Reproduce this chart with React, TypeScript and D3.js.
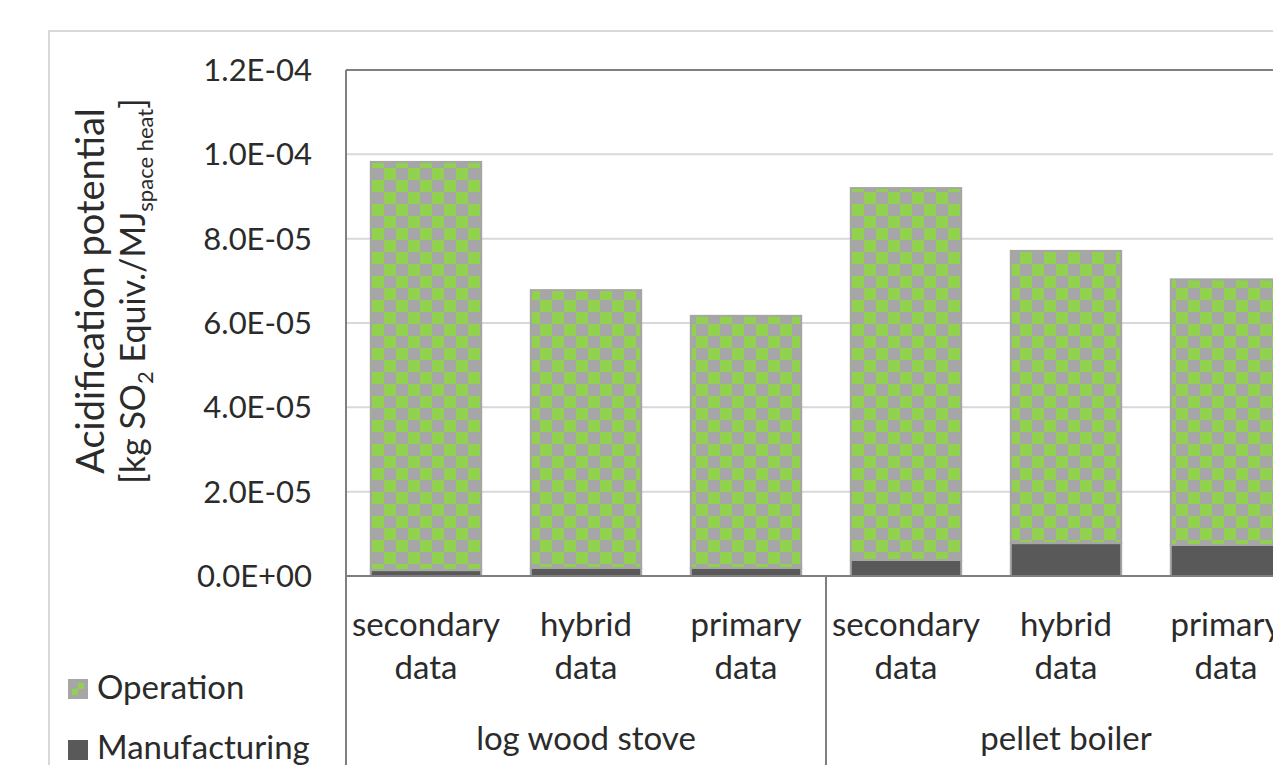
import React, { useEffect, useRef } from "react";
import * as d3 from "d3";

const groups = ["log wood stove", "pellet boiler"];
const subCats = ["secondary data", "hybrid data", "primary data"];
const categories = ["lws-secondary", "lws-hybrid", "lws-primary", "pb-secondary", "pb-hybrid", "pb-primary"];
const manufacturing = [1.4e-6, 1.9e-6, 1.9e-6, 3.8e-6, 7.8e-6, 7.35e-6];
const operation = [9.68e-5, 6.59e-5, 5.98e-5, 8.82e-5, 6.93e-5, 6.3e-5];
const yTicks = [0, 2e-5, 4e-5, 6e-5, 8e-5, 1e-4, 1.2e-4];

const FONT = "Lato, 'Open Sans', sans-serif";
const TEXT = "#2b2b2b";
const GREEN = "#92d050";
const GRAY = "#a6a6a6";
const DARK = "#595959";

export default function App() {
  const svgRef = useRef<SVGSVGElement>(null);

  useEffect(() => {
    document.body.style.margin = "0";
    if (!svgRef.current) return;
    const svg = d3.select(svgRef.current);
    svg.selectAll("*").remove();

    const W = 1273, H = 765;
    const left = 346, top = 70, bottom = 576;
    const plotRight = left + 960;

    const defs = svg.append("defs");
    const pat = defs.append("pattern").attr("id", "checker").attr("patternUnits", "userSpaceOnUse")
      .attr("width", 24).attr("height", 24).attr("x", 0).attr("y", 0);
    pat.append("rect").attr("width", 24).attr("height", 24).attr("fill", GRAY);
    pat.append("rect").attr("width", 12).attr("height", 12).attr("fill", GREEN);
    pat.append("rect").attr("x", 12).attr("y", 12).attr("width", 12).attr("height", 12).attr("fill", GREEN);

    const patSmall = defs.append("pattern").attr("id", "checkerSmall").attr("patternUnits", "userSpaceOnUse")
      .attr("width", 20).attr("height", 20).attr("x", 68).attr("y", 679);
    patSmall.append("rect").attr("width", 20).attr("height", 20).attr("fill", GRAY);
    patSmall.append("rect").attr("x", 4).attr("y", 10).attr("width", 6).attr("height", 6).attr("fill", GREEN);
    patSmall.append("rect").attr("x", 10).attr("y", 4).attr("width", 6).attr("height", 6).attr("fill", GREEN);

    svg.append("rect").attr("width", W).attr("height", H).attr("fill", "#fff");
    // chart area border
    svg.append("rect").attr("x", 49).attr("y", 31).attr("width", W).attr("height", H)
      .attr("fill", "none").attr("stroke", "#d9d9d9").attr("stroke-width", 2);

    const x = d3.scaleBand<string>().domain(categories).range([left, plotRight]).paddingInner(0.31).paddingOuter(0.155);
    const y = d3.scaleLinear().domain([0, 1.2e-4]).range([bottom, top]);

    // gridlines
    svg.append("g").selectAll("line").data(yTicks.slice(1, -1)).join("line")
      .attr("x1", left).attr("x2", plotRight).attr("y1", d => y(d)).attr("y2", d => y(d))
      .attr("stroke", "#d9d9d9").attr("stroke-width", 2);

    // bars
    const stack = categories.map((c, i) => ({ c, m: manufacturing[i], o: operation[i] }));
    svg.append("g").selectAll("rect").data(stack).join("rect")
      .attr("x", d => x(d.c)!).attr("width", x.bandwidth())
      .attr("y", d => y(d.m)).attr("height", d => y(0) - y(d.m))
      .attr("fill", DARK).attr("stroke", GRAY).attr("stroke-width", 2);
    svg.append("g").selectAll("rect").data(stack).join("rect")
      .attr("x", d => x(d.c)!).attr("width", x.bandwidth())
      .attr("y", d => y(d.m + d.o)).attr("height", d => y(d.m) - y(d.m + d.o))
      .attr("fill", "url(#checker)").attr("stroke", GRAY).attr("stroke-width", 2);

    // plot border / axes
    const axisColor = "#7f7f7f";
    svg.append("line").attr("x1", left).attr("x2", plotRight).attr("y1", top).attr("y2", top)
      .attr("stroke", axisColor).attr("stroke-width", 2);
    svg.append("line").attr("x1", left).attr("x2", plotRight).attr("y1", bottom).attr("y2", bottom)
      .attr("stroke", axisColor).attr("stroke-width", 2);
    svg.append("line").attr("x1", left).attr("x2", left).attr("y1", top).attr("y2", H)
      .attr("stroke", axisColor).attr("stroke-width", 2);
    groups.forEach((g, gi) => {
      const gx = left + (gi + 1) * 480;
      svg.append("line").attr("x1", gx).attr("x2", gx).attr("y1", bottom).attr("y2", H)
        .attr("stroke", axisColor).attr("stroke-width", 2);
      svg.append("text").attr("x", left + gi * 480 + 240).attr("y", 750)
        .attr("text-anchor", "middle").attr("font-family", FONT).attr("font-size", 33).attr("fill", TEXT).text(g);
    });

    // y tick labels
    svg.append("g").selectAll("text").data(yTicks).join("text")
      .attr("x", 312).attr("y", d => y(d)).attr("dy", "0.35em").attr("text-anchor", "end")
      .attr("font-family", FONT).attr("font-size", 31).attr("fill", TEXT)
      .text(d => d.toExponential(1).replace(/e([+-])(\d)$/, "E$10$2").toUpperCase());

    // category labels
    const lab = svg.append("g").selectAll("text").data(categories).join("text")
      .attr("text-anchor", "middle").attr("font-family", FONT).attr("font-size", 33).attr("fill", TEXT);
    lab.each(function (d, i) {
      const [a, b] = subCats[i % 3].split(" ");
      const cx = x(d)! + x.bandwidth() / 2;
      const t = d3.select(this);
      t.append("tspan").attr("x", cx).attr("y", 636).text(a);
      t.append("tspan").attr("x", cx).attr("y", 679).text(b);
    });

    // y title
    const title = svg.append("g").attr("transform", "translate(0,291) rotate(-90)")
      .attr("font-family", FONT).attr("fill", TEXT).attr("text-anchor", "middle");
    title.append("text").attr("x", 0).attr("y", 104).attr("font-size", 38).text("Acidification potential");
    const t2 = title.append("text").attr("x", 0).attr("y", 145).attr("font-size", 34);
    t2.append("tspan").text("[kg SO");
    t2.append("tspan").attr("font-size", 22).attr("dy", 8).text("2");
    t2.append("tspan").attr("dy", -8).text(" Equiv./MJ");
    t2.append("tspan").attr("font-size", 22).attr("dy", 8).text("space heat");
    t2.append("tspan").attr("dy", -8).text("]");

    // legend
    svg.append("rect").attr("x", 68).attr("y", 679).attr("width", 20).attr("height", 20).attr("fill", "url(#checkerSmall)");
    svg.append("text").attr("x", 97).attr("y", 699).attr("font-family", FONT).attr("font-size", 33).attr("fill", TEXT).text("Operation");
    svg.append("rect").attr("x", 68).attr("y", 740).attr("width", 20).attr("height", 20).attr("fill", DARK);
    svg.append("text").attr("x", 97).attr("y", 759).attr("font-family", FONT).attr("font-size", 33).attr("fill", TEXT).text("Manufacturing");
  }, []);

  return <svg ref={svgRef} width={1273} height={765} style={{ display: "block" }} />;
}
